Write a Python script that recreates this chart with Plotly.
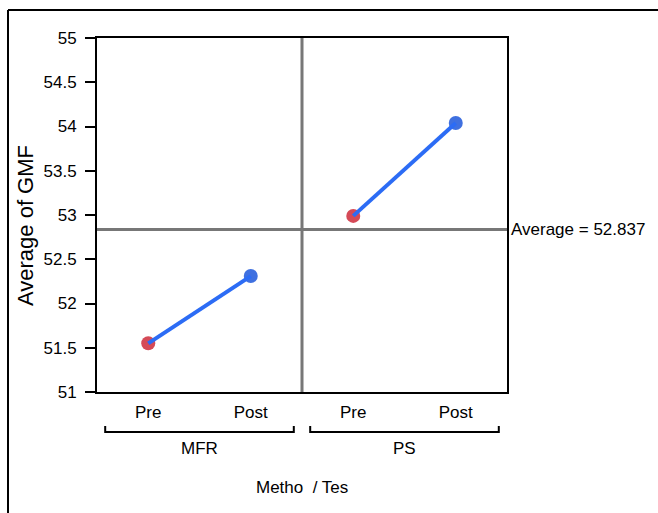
import plotly.graph_objects as go

methods = ["MFR", "PS"]
tests = ["Pre", "Post"]
gmf_means = {"MFR": [51.55, 52.31], "PS": [52.99, 54.04]}
grand_average = 52.837
y_ticks = [51, 51.5, 52, 52.5, 53, 53.5, 54, 54.5, 55]

W, H = 658, 513
L, R, T, B = 97, 151, 38, 121
pw, ph = W - L - R, H - T - B

def px_x(p):
    return (p - L) / pw

def px_y(p):
    return (H - B - p) / ph

FONT = "Liberation Sans, Arial, Helvetica, sans-serif"
RED = "#d54a57"
BLUE = "#3f70e0"
LINE = "#2c6cf5"

fig = go.Figure()

tickvals, ticktext = [], []
for gi, m in enumerate(methods):
    xs = [gi * len(tests) + ti for ti in range(len(tests))]
    tickvals += xs
    ticktext += tests
    fig.add_trace(go.Scatter(
        x=xs, y=gmf_means[m], mode="markers",
        marker=dict(size=14, color=[RED, BLUE], line=dict(width=0)),
        showlegend=False, hoverinfo="x+y"))
    fig.add_trace(go.Scatter(
        x=xs, y=gmf_means[m], mode="lines",
        line=dict(color=LINE, width=4), showlegend=False, hoverinfo="skip"))

n = len(methods) * len(tests)
shapes = []
for gi in range(1, len(methods)):
    shapes.append(dict(type="line", xref="x", yref="y",
                       x0=gi * len(tests) - 0.5, x1=gi * len(tests) - 0.5,
                       y0=y_ticks[0], y1=y_ticks[-1],
                       line=dict(color="#777777", width=3), layer="below"))
shapes.append(dict(type="line", xref="paper", yref="y", x0=0, x1=1,
                   y0=grand_average, y1=grand_average,
                   line=dict(color="#777777", width=3), layer="below"))
annotations = []
by = px_y(432)
bt = px_y(426)
for gi, m in enumerate(methods):
    x0 = gi * len(tests) - 0.42
    x1 = gi * len(tests) + len(tests) - 1 + 0.42
    shapes.append(dict(type="path", xref="x", yref="paper",
                       path=f"M {x0},{bt} L {x0},{by} L {x1},{by} L {x1},{bt}",
                       line=dict(color="black", width=2)))
    annotations.append(dict(x=(x0 + x1) / 2, y=px_y(448), xref="x", yref="paper",
                            text=m, showarrow=False, yanchor="middle",
                            font=dict(family=FONT, size=17, color="black")))
shapes.append(dict(type="line", xref="paper", yref="paper",
                   x0=px_x(8), x1=px_x(8), y0=px_y(10), y1=px_y(520),
                   line=dict(color="black", width=2)))
shapes.append(dict(type="line", xref="paper", yref="paper",
                   x0=px_x(8), x1=px_x(670), y0=px_y(10), y1=px_y(10),
                   line=dict(color="black", width=2)))

annotations.append(dict(x=1, y=grand_average, xref="paper", yref="y",
                        xanchor="left", yanchor="middle", xshift=2,
                        text=f"Average = {grand_average}", showarrow=False,
                        font=dict(family=FONT, size=17, color="black")))
annotations.append(dict(x=0.5, y=px_y(487), xref="paper", yref="paper",
                        text="Metho  / Tes", showarrow=False, yanchor="middle",
                        font=dict(family=FONT, size=17, color="black")))
annotations.append(dict(x=px_x(25), y=px_y(226), xref="paper", yref="paper",
                        text="Average of GMF", showarrow=False, textangle=-90,
                        xanchor="center", yanchor="middle",
                        font=dict(family=FONT, size=22, color="black")))

fig.update_layout(
    width=W, height=H,
    margin=dict(l=L, r=R, t=T, b=B, pad=0),
    paper_bgcolor="white", plot_bgcolor="white",
    shapes=shapes, annotations=annotations,
    xaxis=dict(range=[-0.5, n - 0.5], tickvals=tickvals, ticktext=ticktext,
               showgrid=False, zeroline=False, showline=True, mirror=True,
               linecolor="black", linewidth=2, ticks="", ticklabelstandoff=4,
               tickfont=dict(family=FONT, size=17, color="black")),
    yaxis=dict(range=[y_ticks[0], y_ticks[-1]], tickvals=y_ticks,
               ticktext=[f"{v:g}" for v in y_ticks],
               showgrid=False, zeroline=False, showline=True, mirror=True,
               linecolor="black", linewidth=2, ticks="outside", ticklen=10,
               tickwidth=2, tickcolor="black", ticklabelstandoff=5,
               tickfont=dict(family=FONT, size=17, color="black")),
    showlegend=False,
)

fig.write_html("out.html", config={"displayModeBar": False},
               post_script="document.body.style.margin='0px';")
